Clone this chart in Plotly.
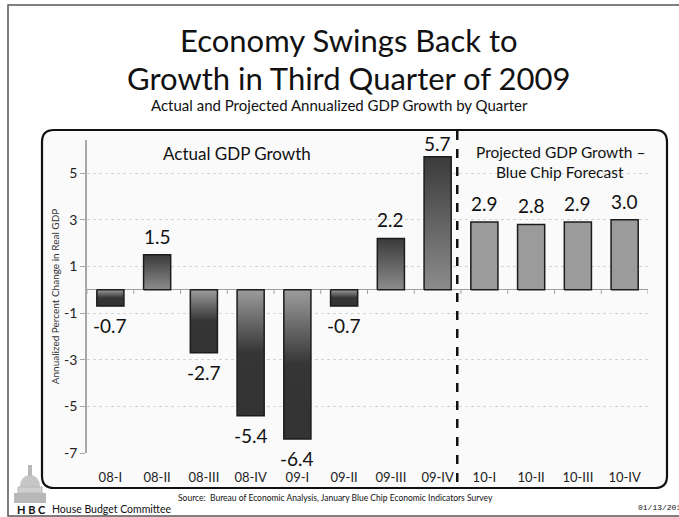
import plotly.graph_objects as go

# Quarterly annualized real GDP growth (percent)
quarters = ["08-I", "08-II", "08-III", "08-IV", "09-I", "09-II", "09-III", "09-IV",
            "10-I", "10-II", "10-III", "10-IV"]
actual_growth = [-0.7, 1.5, -2.7, -5.4, -6.4, -0.7, 2.2, 5.7]
projected_growth = [2.9, 2.8, 2.9, 3.0]
y_ticks = [5, 3, 1, -1, -3, -5, -7]

W, H = 679, 517
# plot-area pixel box
L, R, T, B = 87, 648, 140, 453
Y_MIN, Y_MAX = -7, 6.42


def px(x):
    return (x - L) / (R - L)


def py(y):
    return (B - y) / (B - T)


FONT = "Lato"
fig = go.Figure()

half = 0.29
values = actual_growth + projected_growth
n_actual = len(actual_growth)

for i, v in enumerate(values):
    xs = [i - half, i + half, i + half, i - half, i - half]
    ys = [0, 0, v, v, 0]
    kw = dict(x=xs, y=ys, mode="lines", fill="toself",
              line=dict(color="#1c1c1c", width=1.5),
              hoverinfo="skip", showlegend=False)
    if i < n_actual:
        if v >= 0:
            cs = [[0, "#8c8c8c"], [1, "#3a3a3a"]]
        else:
            cs = [[0, "#333333"], [0.5, "#353535"], [1, "#9c9c9c"]]
        kw["fillgradient"] = dict(type="vertical", colorscale=cs)
    else:
        kw["fillcolor"] = "#9b9b9b"
    fig.add_trace(go.Scatter(**kw))

ann = []

# value labels sitting just beyond each bar end (kept inside the plot top)
for i, v in enumerate(values):
    if v >= 0:
        shift = 5 if v < Y_MAX - 1 else 0
        ann.append(dict(x=i, y=v, xref="x", yref="y", text=f"{v:.1f}",
                        showarrow=False, yanchor="bottom", yshift=shift,
                        font=dict(family=FONT, size=19, color="#111")))
    else:
        ann.append(dict(x=i, y=v, xref="x", yref="y", text=f"{v:.1f}",
                        showarrow=False, yanchor="top", yshift=-6,
                        font=dict(family=FONT, size=19, color="#111")))

fig.update_xaxes(range=[-0.5, 11.5], tickvals=list(range(len(quarters))),
                 ticktext=quarters, showgrid=False, zeroline=False,
                 showline=False, ticks="", fixedrange=True,
                 ticklabelstandoff=15,
                 tickfont=dict(family=FONT, size=13, color="#222"))
fig.update_yaxes(range=[Y_MIN, Y_MAX], tickvals=y_ticks,
                 ticktext=[str(t) for t in y_ticks], showgrid=True,
                 gridcolor="#d4d4d4", griddash="dot", gridwidth=1,
                 zeroline=True, zerolinecolor="#a0a0a0", zerolinewidth=1.2,
                 showline=True, linecolor="#a8a8a8", linewidth=1.5,
                 ticks="outside", ticklen=5, tickcolor="#a8a8a8",
                 tickfont=dict(family=FONT, size=14, color="#222"),
                 title=dict(text="Annualized Percent Change in Real GDP",
                            font=dict(family=FONT, size=10, color="#333"),
                            standoff=3))

shapes = []
# outer frame
shapes.append(dict(type="rect", xref="paper", yref="paper",
                   x0=px(8), x1=px(720), y0=py(5), y1=py(516),
                   line=dict(color="#555", width=1.5), layer="below"))
# rounded panel
x0, x1, y0, y1, r = 42, 667, 130, 488, 12
rx = r / (R - L)
ry = r / (B - T)
X0, X1, Y0, Y1 = px(x0), px(x1), py(y0), py(y1)
path = (f"M {X0 + rx},{Y0} L {X1 - rx},{Y0} Q {X1},{Y0} {X1},{Y0 - ry} "
        f"L {X1},{Y1 + ry} Q {X1},{Y1} {X1 - rx},{Y1} "
        f"L {X0 + rx},{Y1} Q {X0},{Y1} {X0},{Y1 + ry} "
        f"L {X0},{Y0 - ry} Q {X0},{Y0} {X0 + rx},{Y0} Z")
shapes.append(dict(type="path", xref="paper", yref="paper", path=path,
                   fillcolor="#fafafa", line=dict(color="#111", width=2.2),
                   layer="below"))
# tick marks on the zero line between quarters
for k in range(len(quarters) + 1):
    shapes.append(dict(type="line", xref="x", yref="y", x0=k - 0.5, x1=k - 0.5,
                       y0=0, y1=-0.18, line=dict(color="#a0a0a0", width=1)))
# divider between actual and forecast
shapes.append(dict(type="line", xref="x", yref="paper", x0=7.42, x1=7.42,
                   y0=py(131), y1=py(487),
                   line=dict(color="#111", width=2.5, dash="dash")))
# simple capitol dome emblem
g = "#b8b8b8"
shapes.append(dict(type="rect", xref="paper", yref="paper",
                   x0=px(14), x1=px(46), y0=py(503), y1=py(493),
                   fillcolor=g, line=dict(width=0)))
shapes.append(dict(type="rect", xref="paper", yref="paper",
                   x0=px(18), x1=px(42), y0=py(493), y1=py(487),
                   fillcolor="#cfcfcf", line=dict(color=g, width=1)))
shapes.append(dict(type="circle", xref="paper", yref="paper",
                   x0=px(20), x1=px(40), y0=py(497), y1=py(475),
                   fillcolor="#c6c6c6", line=dict(width=0), layer="below"))
shapes.append(dict(type="rect", xref="paper", yref="paper",
                   x0=px(28), x1=px(32), y0=py(476), y1=py(465),
                   fillcolor=g, line=dict(width=0)))


def text(x, y, s, size, xanchor="center", color="#111", family=FONT):
    ann.append(dict(x=px(x), y=py(y), xref="paper", yref="paper", text=s,
                    showarrow=False, xanchor=xanchor, yanchor="middle",
                    font=dict(family=family, size=size, color=color)))


text(349, 40, "Economy Swings Back to", 31)
text(349, 78, "Growth in Third Quarter of 2009", 31)
text(339, 105, "Actual and Projected Annualized GDP Growth by Quarter", 15)
text(237, 153, "Actual GDP Growth", 17)
text(560, 152, "Projected GDP Growth –", 15.5)
text(560, 172, "Blue Chip Forecast", 15.5)
text(335, 498, "Source:  Bureau of Economic Analysis, January Blue Chip Economic Indicators Survey", 8.5)
text(15, 509, "<b>H B C</b>", 11, xanchor="left")
text(50, 509, "House Budget Committee", 10.5, xanchor="left")
text(636, 507, "01/13/2010", 8, xanchor="left", family="Liberation Mono")

fig.update_layout(width=W, height=H, margin=dict(l=L, r=W - R, t=T, b=H - B),
                  paper_bgcolor="white", plot_bgcolor="rgba(0,0,0,0)",
                  shapes=shapes, annotations=ann, showlegend=False)

fig.write_html("out.html")
